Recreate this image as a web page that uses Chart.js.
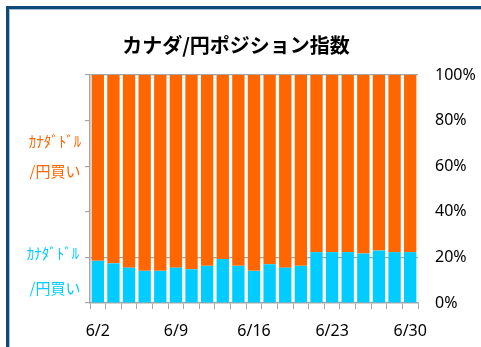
<!DOCTYPE html>
<html>
<head>
<meta charset="utf-8">
<script src="https://cdn.jsdelivr.net/npm/chart.js@4/dist/chart.umd.min.js"></script>
<style>
  html, body { margin: 0; padding: 0; background: #fff; }
  #wrap { position: relative; width: 481px; height: 347px; overflow: hidden; }
  #frame { position: absolute; left: 6px; top: 6px; width: 600px; height: 500px;
           border-left: 3px solid #0E4A75; border-top: 3px solid #0E4A75; }
  #frame:before { content: ''; position: absolute; left: 0; top: 0; right: 0; bottom: 0;
           border-left: 1px solid #A9C1D6; border-top: 1px solid #A9C1D6; }
  canvas { position: absolute; left: 0; top: 0; }
</style>
</head>
<body>
<div id="wrap">
  <div id="frame"></div>
  <canvas id="chart" width="481" height="347"></canvas>
</div>
<script>
//- DATOS -
var dias = ['6/2','6/3','6/4','6/5','6/6','6/9','6/10','6/11','6/12','6/13',
            '6/16','6/17','6/18','6/19','6/20','6/23','6/24','6/25','6/26','6/27','6/30'];
// % de posiciones (celeste = parte inferior)
var compraBaja = [18.5,17.4,15.5,14.1,14.1,15.5,14.8,16.3,19.3,16.3,
                  14.1,17.0,15.5,16.3,22.3,22.3,22.3,21.7,23.0,22.3,22.3];
var compraAlta = compraBaja.map(function(v){ return Math.round((100 - v) * 10) / 10; });
var etiquetasX = ['6/2','6/9','6/16','6/23','6/30'];
var ticksY = [0,20,40,60,80,100];
var lineasY = [20,100];

var titulo = 'カナダ/円ポジション指数';
var textoNaranja = ['ｶﾅﾀﾞﾄﾞﾙ', '/円買い'];
var textoCeleste = ['ｶﾅﾀﾞﾄﾞﾙ', '/円買い'];

var naranja = '#FF6600';
var celeste = '#00CCFF';
var gris = '#A6A6A6';

// titulo y textos a la izquierda del grafico
var textosExtra = {
     id: 'textosExtra',
     afterDraw: function(chart) {
          var ctx = chart.ctx;
          var y = chart.scales.y;
          ctx.save();
          ctx.textAlign = 'center';
          ctx.textBaseline = 'middle';
          ctx.fillStyle = '#000';
          ctx.font = 'bold 20px "Noto Sans CJK JP"';
          ctx.fillText(titulo, 236, 45);
          ctx.font = '15px "Noto Sans CJK JP"';
          ctx.fillStyle = naranja;
          ctx.fillText(textoNaranja[0], 55, y.getPixelForValue(71));
          ctx.fillText(textoNaranja[1], 55, y.getPixelForValue(57.7));
          ctx.fillStyle = celeste;
          ctx.fillText(textoCeleste[0], 53, y.getPixelForValue(22));
          ctx.fillText(textoCeleste[1], 55, y.getPixelForValue(6.6));
          ctx.restore();
     }
};

var ctx = document.getElementById('chart').getContext('2d');
var chart = new Chart(ctx, {
     type: 'bar',
     data: {
          labels: dias,
          datasets: [
               { label: 'baja', data: compraBaja, backgroundColor: celeste, yAxisID: 'y' },
               { label: 'alta', data: compraAlta, backgroundColor: naranja, yAxisID: 'y' }
          ]
     },
     options: {
          responsive: false,
          animation: false,
          layout: { padding: { left: 85, right: 0, top: 75, bottom: 0 } },
          datasets: { bar: { categoryPercentage: 1, barPercentage: 0.79 } },
          plugins: {
               legend: { display: false },
               tooltip: { enabled: false },
               title: { display: false }
          },
          scales: {
               x: {
                    stacked: true,
                    afterFit: function(s) { s.height = 44; },
                    grid: { offset: true, drawOnChartArea: false, drawTicks: true, tickLength: 6, color: gris, lineWidth: 1 },
                    border: { color: gris, width: 1.5 },
                    ticks: {
                         autoSkip: false,
                         maxRotation: 0,
                         padding: 13,
                         color: '#000',
                         font: { family: '"Noto Sans"', size: 16 },
                         callback: function(v, i) {
                              var l = dias[i];
                              return etiquetasX.indexOf(l) >= 0 ? l : '';
                         }
                    }
               },
               y: {
                    stacked: true,
                    position: 'left',
                    min: 0, max: 100,
                    afterBuildTicks: function(s) { s.ticks = ticksY.map(function(v){ return { value: v }; }); },
                    grid: {
                         color: function(c) { return lineasY.indexOf(c.tick.value) >= 0 ? gris : 'rgba(0,0,0,0)'; },
                         tickColor: gris,
                         lineWidth: 1.2, drawTicks: true, tickLength: 5
                    },
                    border: { color: gris, width: 1.5 },
                    ticks: { display: false }
               },
               y2: {
                    position: 'right',
                    min: 0, max: 100,
                    afterBuildTicks: function(s) { s.ticks = ticksY.map(function(v){ return { value: v }; }); },
                    afterFit: function(s) { s.width = 63; },
                    grid: { display: false, drawTicks: false },
                    border: { display: false },
                    ticks: {
                         padding: 17,
                         color: '#000',
                         font: { family: '"Noto Sans"', size: 16 },
                         callback: function(v) { return v + '%'; }
                    }
               }
          }
     },
     plugins: [textosExtra]
});
</script>
</body>
</html>
